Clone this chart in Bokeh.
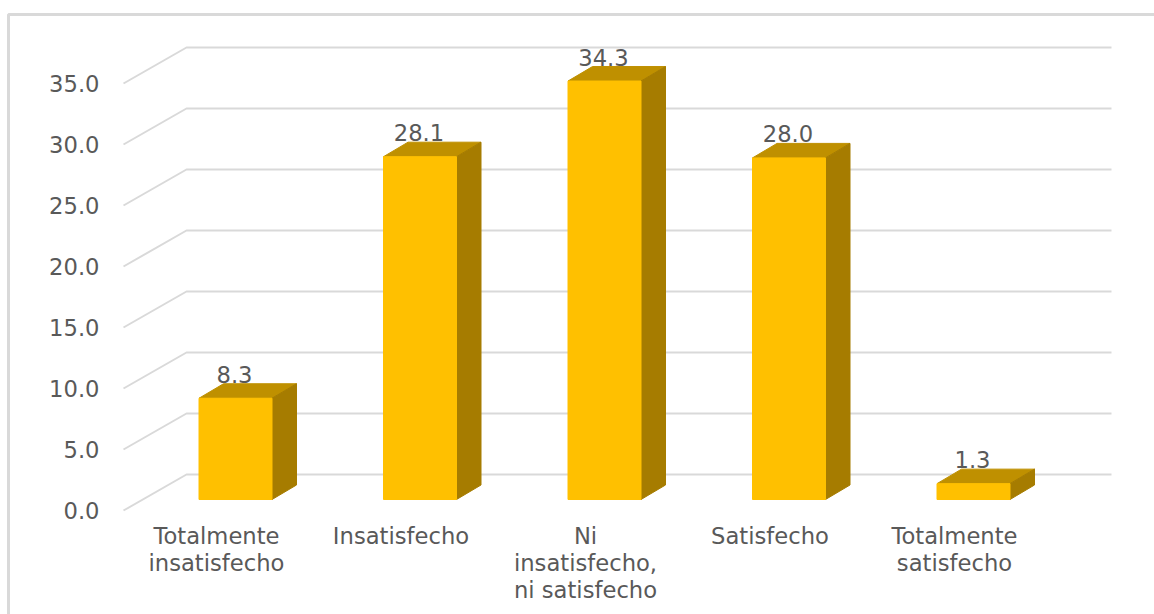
from bokeh.plotting import figure
from bokeh.embed import file_html
from bokeh.resources import INLINE
from bokeh.models import Range1d, FixedTicker
from bokeh.core.properties import value

categories = ["Totalmente\ninsatisfecho", "Insatisfecho", "Ni\ninsatisfecho,\nni satisfecho", "Satisfecho", "Totalmente\nsatisfecho"]
values = [8.3, 28.1, 34.3, 28.0, 1.3]
value_ticks = [0, 5, 10, 15, 20, 25, 30, 35]
value_labels = ["0.0", "5.0", "10.0", "15.0", "20.0", "25.0", "30.0", "35.0"]

FONT = "DejaVu Sans"
GREY = "#595959"
GRID = "#d9d9d9"
FRONT = "#ffc000"
TOP = "#bf9000"
SIDE = "#a67c00"

# pixel geometry of the frame
W, H = 1154, 614
PX_X = 184.5   # px per category
PX_Y = 12.2    # px per value unit
LABEL_X0 = 216           # px of the first category label's centre
X0 = LABEL_X0 / PX_X     # frame distance of category 0
Y_BOTTOM = (H - 510) / PX_Y   # below value 0 on the front plane

xr = Range1d(-X0, -X0 + W / PX_X)
yr = Range1d(-Y_BOTTOM, -Y_BOTTOM + H / PX_Y)

p = figure(width=W, height=H, x_range=xr, y_range=yr, output_backend="svg", toolbar_location=None,
           min_border_left=0, min_border_right=0, min_border_top=0, min_border_bottom=0)
p.background_fill_color = "white"
p.border_fill_color = "white"
p.outline_line_color = None
p.xgrid.visible = False
p.ygrid.visible = False

dx = lambda px: px / PX_X
dy = lambda px: px / PX_Y
px_x = lambda px: (px - LABEL_X0) / PX_X

# chart border: top and left edges only
bx, by = px_x(8), (510 - 14) / PX_Y
p.line([bx, bx, xr.end], [yr.start, by, by], line_color=GRID, line_width=3)

# x position of the front end of the value axis
AX = px_x(123)
BACK_X = px_x(186)
END_X = px_x(1111)
BACK_Y = dy(36)

# gridlines: slanted side wall plus back wall
xs = [[AX, BACK_X, END_X] for _ in value_ticks]
ys = [[v, v + BACK_Y, v + BACK_Y] for v in value_ticks]
p.multi_line(xs, ys, line_color=GRID, line_width=2)

# 3D bars, standing in the middle of the floor's depth
PLANE = dy(11)
BW = dx(73)
DX = dx(24.5)
DY = dy(14.5)
SHIFT = dx(19)
idx = list(range(len(values)))
for i, v in zip(idx, values):
    l, r = i + SHIFT - BW / 2, i + SHIFT + BW / 2
    b, t = PLANE, PLANE + v
    p.patch([l, r, r + DX, l + DX], [t, t, t + DY, t + DY], fill_color=TOP, line_color=TOP)
    p.patch([r, r + DX, r + DX, r], [b, b + DY, t + DY, t], fill_color=SIDE, line_color=SIDE)
p.quad(left=[i + SHIFT - BW / 2 for i in idx], right=[i + SHIFT + BW / 2 for i in idx],
       bottom=[PLANE] * len(idx), top=[PLANE + v for v in values],
       fill_color=FRONT, line_color=FRONT)

# data labels
p.text([i + SHIFT - dx(1) for i in idx], [PLANE + v + DY for v in values], text=[f"{v:.1f}" for v in values],
       text_font=value(FONT), text_font_size="17pt", text_color=GREY, text_align="center",
       text_baseline="bottom", y_offset=-1)

# axes
ya = p.yaxis[0]
ya.fixed_location = AX
ya.ticker = FixedTicker(ticks=value_ticks)
ya.major_label_overrides = dict(zip(value_ticks, value_labels))
ya.axis_line_color = None
ya.major_tick_line_color = None
ya.minor_tick_line_color = None
ya.major_label_standoff = 18
ya.major_label_text_font = FONT
ya.major_label_text_font_size = "17pt"
ya.major_label_text_color = GREY

xa = p.xaxis[0]
xa.fixed_location = 0
xa.ticker = FixedTicker(ticks=idx)
xa.major_label_overrides = dict(zip(idx, categories))
xa.axis_line_color = None
xa.major_tick_line_color = None
xa.minor_tick_line_color = None
xa.major_label_standoff = 6
xa.major_label_text_font = FONT
xa.major_label_text_font_size = "17pt"
xa.major_label_text_line_height = 1.05
xa.major_label_text_color = GREY

open("out.html", "w").write(file_html(p, INLINE))
